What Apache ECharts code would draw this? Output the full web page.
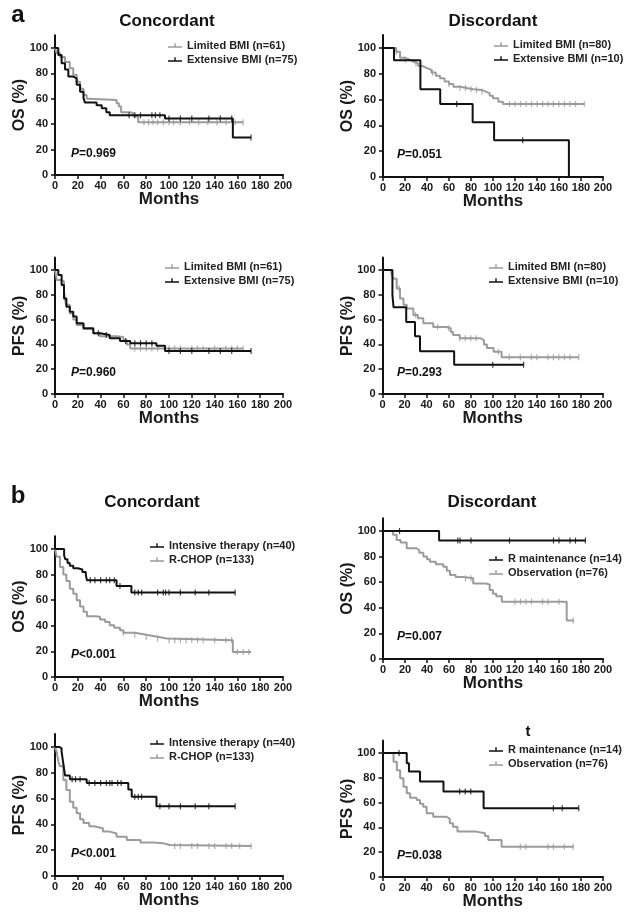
<!DOCTYPE html>
<html><head><meta charset="utf-8">
<script src="https://cdn.jsdelivr.net/npm/echarts@6/dist/echarts.min.js"></script>
<style>html,body{margin:0;padding:0;background:#fff}#c{width:629px;height:920px}</style>
</head><body><div id="c"></div>
<script>
// ---------- DATA (Kaplan-Meier step points [month, %] and censor months) ----------
const yTickValues = [0, 20, 40, 60, 80, 100];

// a) OS, Concordant
const aOsConLim = [[0,100],[1.5,96],[4.4,93],[8.8,89],[13,84],[16,79],[19,73.5],[22,68],[25,63],[27.8,60],[30,59],[54,56.5],[56,54],[58,49.5],[66,48.5],[69,46],[73,41.5],[165,41.5]];
const aOsConLimCens = [78,82,86,90,95,100,104,110,118,126,134,142,150,158,165];
const aOsConExt = [[0,100],[2.9,94.5],[5.8,88],[8.8,83],[11.7,77.5],[16,76],[19,71],[22,65.5],[25,60.5],[26.3,57],[36.5,55],[41,52.5],[45,49.5],[48,47],[96.5,44.5],[156,29.5],[172,29.5]];
const aOsConExtCens = [65,70,75,85,88,92,100,110,120,135,145,155,172];

// a) OS, Discordant
const aOsDisLim = [[0,100],[9.4,100],[12,97],[15.5,92.5],[20,91],[24,89.5],[27.6,88],[32,86],[36,84.5],[39.7,83],[44,81],[48,78.5],[51.8,76.5],[56,74],[60,72],[64,70],[70,69],[76,68],[82,67.4],[90,66],[94,65],[97,63],[100,61],[104.8,58.4],[109,56.6],[183,56.6]];
const aOsDisLimCens = [12,20,30,45,60,70,75,80,85,90,115,120,125,130,135,140,145,150,155,160,165,170,175,183];
const aOsDisExt = [[0,100],[10,90.5],[34,68],[52,56.5],[81.5,42.5],[101,28.5],[169,0]];
const aOsDisExtCens = [67,127];

// a) PFS, Concordant
const aPfsConLim = [[0,100],[1.5,92],[5.8,90.6],[7.9,82.5],[9.6,72],[13,65],[16,60],[19,55.6],[25,52.4],[33.6,49],[39.5,46.5],[54,46],[60,43.5],[63,40],[66,36.6],[165,36.6]];
const aPfsConLimCens = [70,75,80,85,90,100,105,110,120,125,130,140,150,155,160,165];
const aPfsConExt = [[0,100],[2.9,96],[5.8,88],[7.9,77],[10,70.4],[13,66.4],[16,62.4],[19,57],[25,53],[33.6,49],[39.5,47.6],[48,45],[57,42.7],[66,41],[89,39],[96.5,34.7],[172,34.7]];
const aPfsConExtCens = [38,45,62,70,75,80,85,100,110,120,135,145,155,172];

// a) PFS, Discordant
const aPfsDisLim = [[0,100],[6,100],[8,97],[9.8,93],[12.9,85],[15.9,77],[19,72],[22,69],[28,63.7],[32,61],[37,57],[46,54],[58,53],[62,50],[64,47.5],[70,45],[88.6,43.5],[92,40],[94.7,37],[100.8,34],[108,29.6],[178,29.6]];
const aPfsDisLimCens = [15,30,50,60,70,75,80,85,105,115,125,135,140,150,155,160,165,170,178];
const aPfsDisExt = [[0,100],[9,80],[10,70],[21.5,58],[29.5,46.5],[34,34.5],[65,23.5],[128,23.5]];
const aPfsDisExtCens = [100,128];

// b) OS, Concordant
const bOsConInt = [[0,100],[8,95],[9,92],[11,89],[13,87],[16,85],[20,84],[24,82],[27,80],[28,75.5],[54,71],[67,66],[158,66]];
const bOsConIntCens = [31,35,40,45,48,52,57,70,73,76,90,95,97,100,110,123,135,158];
const bOsConRch = [[0,100],[1.5,94],[4.4,86],[7.3,80],[10,75],[13,69],[16,65],[19,60],[22,55],[25,51],[28,47.5],[35,47],[39.5,45],[44,43],[48,40.5],[52,38.5],[57,36.5],[60,34.5],[70,33],[80,31.5],[90,30],[98,28.8],[156,19.5],[172,19.5]];
const bOsConRchCens = [60,70,80,90,100,105,110,115,120,125,130,140,150,155,160,165,170];

// b) OS, Discordant
const bOsDisRm = [[0,100],[51,92.5],[184,92.5]];
const bOsDisRmCens = [15,68,70,80,115,155,160,170,175,184];
const bOsDisObs = [[0,100],[6.4,100],[9,97],[12.4,93],[16,91],[21.5,86.5],[30.6,85],[33,83],[36.7,80],[40,78],[42.7,76],[48,74],[54.8,72],[58,69],[60.9,65.6],[66,64],[73,63],[82,59],[94,58],[97,54],[100,51],[103,49],[108,44.8],[167,30],[173,30]];
const bOsDisObsCens = [75,80,120,125,130,135,145,150,160,173];

// b) PFS, Concordant
const bPfsConInt = [[0,100],[4,99],[5.8,96.5],[7.3,87],[8.8,78],[13,75],[27.8,72],[64.3,67],[67.3,61.5],[89,54],[158,54]];
const bPfsConIntCens = [15,18,22,30,35,40,45,48,50,55,58,70,73,76,92,100,110,123,135,158];
const bPfsConRch = [[0,100],[1.5,96],[2.9,89],[4.4,85],[7.3,74.5],[10,66.7],[13,57.6],[16,53],[19,48.6],[22,44],[25,41],[30,38.5],[34,37],[42,34.4],[48,33],[54,30.5],[63,28],[75,26],[86,25.3],[95,24],[101,23.3],[172,23.3]];
const bPfsConRchCens = [105,110,120,125,135,140,150,155,162,172];

// b) PFS, Discordant
const bPfsDisRm = [[0,100],[22,91.7],[24,85],[34,77],[55.3,69],[91.7,55.4],[178,55.4]];
const bPfsDisRmCens = [15,70,75,80,155,163,178];
const bPfsDisObs = [[0,100],[6.2,100],[10,93],[13,86],[16,79.6],[19,72.8],[22,67.5],[25,64],[31,62],[34,59],[37,56.7],[40,51.4],[46,48.6],[58,47],[61,43.3],[64,40.6],[68,36.6],[85,35.2],[93,33],[96,29.8],[108,24.4],[173,24.4]];
const bPfsDisObsCens = [125,130,150,155,165,173];

// Names / labels
const nLim61 = 'Limited BMI (n=61)', nExt75 = 'Extensive BMI (n=75)';
const nLim80 = 'Limited BMI (n=80)', nExt10 = 'Extensive BMI (n=10)';
const nInt = 'Intensive therapy (n=40)', nRch = 'R-CHOP (n=133)';
const nRm = 'R maintenance (n=14)', nObs = 'Observation (n=76)';
const pValues = ['0.969','0.051','0.960','0.293','<0.001','0.007','<0.001','0.038'];

// ---------- LAYOUT ----------
const BLACK = '#111111', GRAY = '#9b9b9b';
const FONT = '"Liberation Sans", Arial, sans-serif';
const panels = [
  {left:55, width:228, y0:175, y100:48, yName:'OS (%)', leg:{left:163, top:35}, p:[71,154],
   s:[{n:nLim61,d:aOsConLim,c:aOsConLimCens,col:GRAY},{n:nExt75,d:aOsConExt,c:aOsConExtCens,col:BLACK}]},
  {left:383, width:220, y0:177, y100:48, yName:'OS (%)', leg:{left:489, top:34}, p:[397,155],
   s:[{n:nLim80,d:aOsDisLim,c:aOsDisLimCens,col:GRAY},{n:nExt10,d:aOsDisExt,c:aOsDisExtCens,col:BLACK}]},
  {left:55, width:228, y0:394, y100:270, yName:'PFS (%)', leg:{left:160, top:256}, p:[71,373],
   s:[{n:nLim61,d:aPfsConLim,c:aPfsConLimCens,col:GRAY},{n:nExt75,d:aPfsConExt,c:aPfsConExtCens,col:BLACK}]},
  {left:382.5, width:220.5, y0:394, y100:270, yName:'PFS (%)', leg:{left:484, top:256}, p:[397,373],
   s:[{n:nLim80,d:aPfsDisLim,c:aPfsDisLimCens,col:GRAY},{n:nExt10,d:aPfsDisExt,c:aPfsDisExtCens,col:BLACK}]},
  {left:55, width:228, y0:677, y100:549, yName:'OS (%)', leg:{left:145, top:535}, p:[71,655],
   s:[{n:nInt,d:bOsConInt,c:bOsConIntCens,col:BLACK},{n:nRch,d:bOsConRch,c:bOsConRchCens,col:GRAY}]},
  {left:383, width:220, y0:659, y100:531, yName:'OS (%)', leg:{left:484, top:548}, p:[397,637],
   s:[{n:nRm,d:bOsDisRm,c:bOsDisRmCens,col:BLACK},{n:nObs,d:bOsDisObs,c:bOsDisObsCens,col:GRAY}]},
  {left:55, width:228, y0:876, y100:747, yName:'PFS (%)', leg:{left:145, top:732}, p:[71,854],
   s:[{n:nInt,d:bPfsConInt,c:bPfsConIntCens,col:BLACK},{n:nRch,d:bPfsConRch,c:bPfsConRchCens,col:GRAY}]},
  {left:382.5, width:220.5, y0:877, y100:753, yName:'PFS (%)', leg:{left:484, top:739}, p:[397,856],
   s:[{n:nRm,d:bPfsDisRm,c:bPfsDisRmCens,col:BLACK},{n:nObs,d:bPfsDisObs,c:bPfsDisObsCens,col:GRAY}]}
];

function survAt(steps, t) {
  let v = steps[0][1];
  for (const p of steps) { if (p[0] <= t) v = p[1]; else break; }
  return v;
}

const legendIcon = 'path://M0,45 L140,45 L140,58 L0,58 Z M63,15 L77,15 L77,58 L63,58 Z';

const grid = [], xAxis = [], yAxis = [], series = [], legend = [];
panels.forEach((pn, i) => {
  const top = pn.y0 - 1.1 * (pn.y0 - pn.y100);
  grid.push({left: pn.left, top: top, width: pn.width, height: pn.y0 - top});
  xAxis.push({
    type:'value', gridIndex:i, min:0, max:200, interval:20,
    name:'Months', nameLocation:'middle', nameGap:16, nameMoveOverlap:false,
    nameTextStyle:{fontFamily:FONT, fontWeight:'bold', fontSize:17, color:'#1a1a1a'},
    axisLine:{show:true, onZero:false, lineStyle:{color:BLACK, width:2}},
    axisTick:{show:true, length:4, lineStyle:{color:BLACK, width:1.5}},
    axisLabel:{fontFamily:FONT, fontWeight:'bold', fontSize:11, color:'#1a1a1a', margin:5},
    splitLine:{show:false}
  });
  yAxis.push({
    type:'value', gridIndex:i, min:0, max:110, interval:20,
    name:pn.yName, nameLocation:'middle', nameGap:27, nameRotate:90, nameMoveOverlap:false,
    nameTextStyle:{fontFamily:FONT, fontWeight:'bold', fontSize:16, color:'#1a1a1a'},
    axisLine:{show:true, onZero:false, lineStyle:{color:BLACK, width:2}},
    axisTick:{show:true, length:4, lineStyle:{color:BLACK, width:1.5}, customValues:yTickValues},
    axisLabel:{fontFamily:FONT, fontWeight:'bold', fontSize:11, color:'#1a1a1a', margin:7, customValues:yTickValues},
    splitLine:{show:false}
  });
  pn.s.forEach(s => {
    series.push({
      type:'line', name:s.n, xAxisIndex:i, yAxisIndex:i, step:'end',
      data:s.d, symbol:'none', color:s.col,
      lineStyle:{color:s.col, width:2}, z:s.col === BLACK ? 3 : 2, animation:false
    });
    series.push({
      type:'scatter', name:s.n + ' censored', xAxisIndex:i, yAxisIndex:i,
      data:s.c.map(t => [t, survAt(s.d, t)]), symbol:'rect', symbolSize:[1.2,6],
      itemStyle:{color:s.col}, z:s.col === BLACK ? 4 : 2, animation:false, silent:true
    });
  });
  legend.push({
    left:pn.leg.left, top:pn.leg.top, orient:'vertical', itemGap:3,
    itemWidth:14, itemHeight:6, selectedMode:false,
    data:pn.s.map(s => ({name:s.n, icon:legendIcon, itemStyle:{color:s.col}})),
    textStyle:{fontFamily:FONT, fontWeight:'bold', fontSize:11, color:'#222'}
  });
});

const graphic = [];
function txt(x, y, text, size, opts) {
  graphic.push({type:'text', x:x, y:y, silent:true,
    style:Object.assign({text:text, font:'bold ' + size + 'px ' + FONT, fill:'#111',
      align:'center', verticalAlign:'middle'}, opts || {})});
}
txt(18, 15, 'a', 24);
txt(18, 496, 'b', 24);
txt(167, 21, 'Concordant', 17);
txt(493, 21, 'Discordant', 17);
txt(152, 502, 'Concordant', 17);
txt(492, 502, 'Discordant', 17);
txt(528, 732, 't', 15);
panels.forEach((pn, i) => {
  txt(pn.p[0], pn.p[1], '{i|P}' + (pValues[i].charAt(0) === '<' ? '' : '=') + pValues[i], 12,
    {align:'left', rich:{i:{fontStyle:'italic', fontWeight:'bold', fontSize:12, fontFamily:FONT, fill:'#111'}}});
});

const chart = echarts.init(document.getElementById('c'), null, {renderer:'canvas'});
chart.setOption({
  animation:false, backgroundColor:'#ffffff',
  grid:grid, xAxis:xAxis, yAxis:yAxis, series:series, legend:legend, graphic:graphic
});
</script></body></html>
